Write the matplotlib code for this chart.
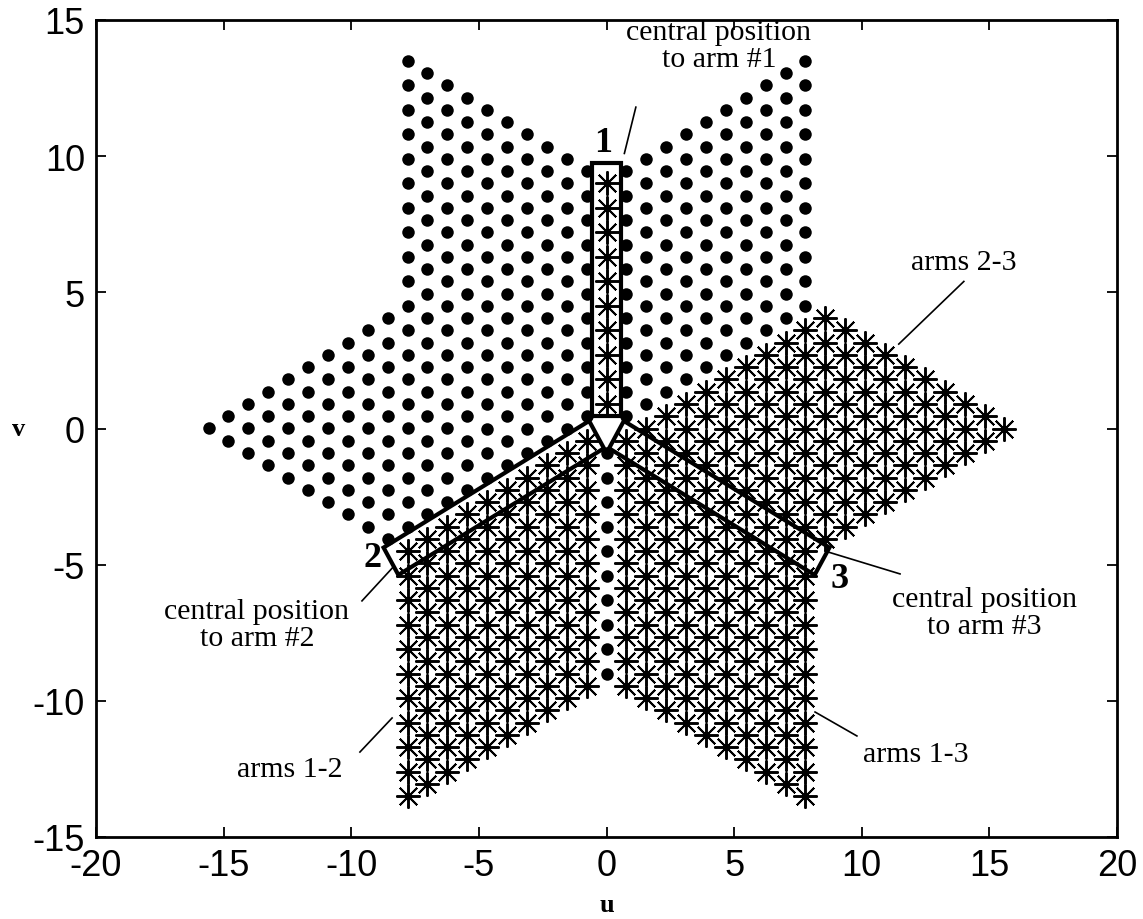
import numpy as np
import matplotlib
matplotlib.use('Agg')
import matplotlib.pyplot as plt
from matplotlib.patches import Polygon

plt.rcParams['axes.unicode_minus'] = False

# antenna positions along each arm (distance from central position)
arm_positions = [0.9, 1.8, 2.7, 3.6, 4.5, 5.4, 6.3, 7.2, 8.1, 9.0]
arm_angles = [90, 210, 330]
arm_names = ['1', '2', '3']
arm_pairs = [(0, 1), (0, 2), (1, 2)]

x_ticks = [-20, -15, -10, -5, 0, 5, 10, 15, 20]
y_ticks = [-15, -10, -5, 0, 5, 10, 15]

E = [np.array([np.cos(np.radians(a)), np.sin(np.radians(a))]) for a in arm_angles]
P = np.array(arm_positions)


def arm_pts(i):
    return P[:, None] * E[i]


star_sets = [arm_pts(i) for i in range(3)]
for i, j in arm_pairs:
    d = arm_pts(j)[None, :, :] - arm_pts(i)[:, None, :]
    star_sets.append(d.reshape(-1, 2))
stars = np.vstack(star_sets)
dots = -stars

fig = plt.figure(figsize=(11.43, 9.2), dpi=100)
ax = fig.add_axes([96 / 1143, 1 - 838 / 920, 1021 / 1143, 817 / 920])

ax.plot(dots[:, 0], dots[:, 1], 'o', color='black', ms=9, mew=0, zorder=2)
ax.plot(stars[:, 0], stars[:, 1], linestyle='none', marker=(8, 2, 0),
        color='black', ms=17.5, mew=1.4, zorder=3)

# boxes around central position -> arm baselines
r0, r1, w = 0.45, 9.75, 0.58
for e in E:
    n = np.array([-e[1], e[0]])
    corners = [r0 * e + w * n, r1 * e + w * n, r1 * e - w * n, r0 * e - w * n]
    ax.add_patch(Polygon(corners, closed=True, fill=False, edgecolor='black',
                         lw=3, zorder=4, joinstyle='miter'))

serif = 'Liberation Serif'
tfs = 21.5
lfs = 26
ax.text(4.4, 14.05, 'central position\nto arm #1', ha='center', va='center',
        family=serif, fontsize=tfs, linespacing=1.05, zorder=5)
ax.plot([1.15, 0.7], [11.8, 10.1], color='black', lw=1.2, zorder=5)
ax.text(-0.15, 10.5, '1', ha='center', va='center', family=serif,
        fontsize=lfs, fontweight='bold', zorder=5)

ax.text(-9.15, -4.72, '2', ha='center', va='center', family=serif,
        fontsize=lfs, fontweight='bold', zorder=5)
ax.plot([-8.36, -9.58], [-5.09, -6.33], color='black', lw=1.2, zorder=5)
ax.text(-13.7, -7.2, 'central position\nto arm #2', ha='center', va='center',
        family=serif, fontsize=tfs, linespacing=1.05, zorder=5)

ax.text(9.15, -5.5, '3', ha='center', va='center', family=serif,
        fontsize=lfs, fontweight='bold', zorder=5)
ax.plot([8.56, 11.5], [-4.5, -5.34], color='black', lw=1.2, zorder=5)
ax.text(14.8, -6.75, 'central position\nto arm #3', ha='center', va='center',
        family=serif, fontsize=tfs, linespacing=1.05, zorder=5)

ax.text(14.0, 6.1, 'arms 2-3', ha='center', va='center', family=serif,
        fontsize=tfs, zorder=5)
ax.plot([14.0, 11.45], [5.4, 3.1], color='black', lw=1.2, zorder=5)

ax.text(-12.4, -12.5, 'arms 1-2', ha='center', va='center', family=serif,
        fontsize=tfs, zorder=5)
ax.plot([-8.40, -9.66], [-10.63, -11.88], color='black', lw=1.2, zorder=5)

ax.text(12.1, -11.95, 'arms 1-3', ha='center', va='center', family=serif,
        fontsize=tfs, zorder=5)
ax.plot([8.17, 9.81], [-10.41, -11.29], color='black', lw=1.2, zorder=5)

ax.set_xlim(-20, 20)
ax.set_ylim(-15, 15)
ax.set_xticks(x_ticks)
ax.set_yticks(y_ticks)
ax.set_xticklabels([str(t) for t in x_ticks], family='Liberation Sans', fontsize=26)
ax.set_yticklabels([str(t) for t in y_ticks], family='Liberation Sans', fontsize=26)
ax.tick_params(direction='in', length=7, width=1.3, top=True, right=True,
               pad=8)
for s in ax.spines.values():
    s.set_linewidth(2)

ax.set_xlabel('u', family=serif, fontweight='bold', fontsize=19, labelpad=7)
ax.set_ylabel('v', family=serif, fontweight='bold', fontsize=19, rotation=0,
              labelpad=10, va='center')

fig.savefig('out.png', dpi=100)
